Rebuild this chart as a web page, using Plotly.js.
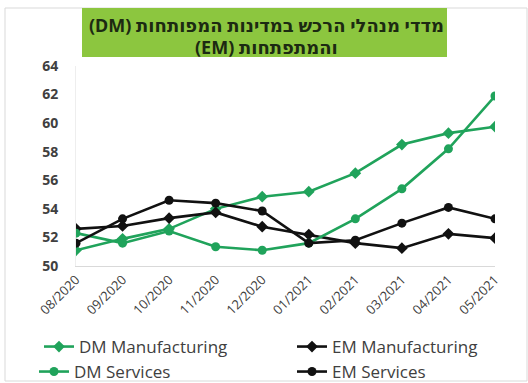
<!DOCTYPE html>
<html>
<head>
<meta charset="utf-8">
<script src="https://cdn.plot.ly/plotly-3.0.1.min.js"></script>
<style>
html,body{margin:0;padding:0;background:#fff;}
#chart{width:528px;height:383px;}
</style>
</head>
<body>
<div id="chart"></div>
<script>
const months = ["08/2020","09/2020","10/2020","11/2020","12/2020","01/2021","02/2021","03/2021","04/2021","05/2021"];
const dmManufacturing = [51.1, 51.9, 52.6, 54.0, 54.85, 55.2, 56.5, 58.5, 59.3, 59.75];
const emManufacturing = [52.6, 52.8, 53.35, 53.75, 52.75, 52.2, 51.6, 51.25, 52.25, 51.95];
const dmServices = [52.3, 51.6, 52.45, 51.35, 51.1, 51.6, 53.3, 55.4, 58.2, 61.9];
const emServices = [51.6, 53.3, 54.6, 54.4, 53.85, 51.6, 51.8, 53.0, 54.1, 53.3];
const yTicks = [50, 52, 54, 56, 58, 60, 62, 64];
const titleLines = ["(DM) מדדי מנהלי הרכש במדינות המפותחות", "(EM) והמתפתחות"];

const green = "#20a35b";
const black = "#111111";

function tr(name, y, color, symbol, legend) {
  return {
    type: "scatter", mode: "lines+markers", name: name, legend: legend,
    x: months.map((m, i) => i), y: y,
    line: {color: color, width: 2.6},
    marker: {color: color, symbol: symbol, size: 9}
  };
}

const data = [
  tr("DM Manufacturing", dmManufacturing, green, "diamond", "legend"),
  tr("EM Manufacturing", emManufacturing, black, "diamond", "legend2"),
  tr("DM Services", dmServices, green, "circle", "legend3"),
  tr("EM Services", emServices, black, "circle", "legend4")
];

const W = 528, H = 383;
const PW = 419, PH = 200, L = 76, T = 66;
const px = x => (x - L) / PW;
const py = y => (T + PH - y) / PH;

function leg(textX, rowY) {
  return {
    xref: "container", yref: "container",
    x: (textX - 41) / W, y: 1 - rowY / H, xanchor: "left", yanchor: "middle",
    font: {size: 17, color: "#404040"},
    itemwidth: 30, bgcolor: "rgba(0,0,0,0)", borderwidth: 0
  };
}

const layout = {
  width: W, height: H,
  margin: {l: L, r: W - L - PW, t: T, b: H - T - PH, autoexpand: false},
  paper_bgcolor: "#ffffff", plot_bgcolor: "#ffffff",
  showlegend: true,
  font: {family: "Open Sans, Liberation Sans, sans-serif", color: "#404040"},
  xaxis: {
    range: [0, 9], tickmode: "array",
    tickvals: months.map((m, i) => i), ticktext: months,
    tickangle: -45, showgrid: false, zeroline: false,
    showline: true, linecolor: "#d9d9d9", linewidth: 1,
    ticks: "", tickfont: {size: 13, color: "#404040"}, automargin: false
  },
  yaxis: {
    range: [50, 64], tickmode: "array", tickvals: yTicks,
    ticktext: yTicks.map(String),
    showgrid: false, zeroline: false, showline: true,
    linecolor: "#eeeeee", linewidth: 1, ticks: "",
    ticklabelstandoff: 14, automargin: false,
    tickfont: {size: 14, color: "#404040", weight: "bold"}
  },
  legend: leg(80, 347),
  legend2: leg(333, 347),
  legend3: leg(75, 372),
  legend4: leg(333, 372),
  shapes: [
    {type: "rect", xref: "paper", yref: "paper",
     x0: px(5), x1: px(527), y0: py(381), y1: py(8),
     line: {color: "#d9d9d9", width: 1}, fillcolor: "rgba(0,0,0,0)", layer: "below"},
    {type: "rect", xref: "paper", yref: "paper",
     x0: px(82), x1: px(447), y0: py(57), y1: py(8),
     line: {width: 0}, fillcolor: "#8cc63f", layer: "above"}
  ],
  annotations: [
    {xref: "paper", yref: "paper", x: px(266), y: py(25), text: titleLines[0],
     showarrow: false, xanchor: "center", yanchor: "middle",
     font: {size: 18, color: "#1c2a12", weight: "bold", family: "Noto Sans, DejaVu Sans, sans-serif"}},
    {xref: "paper", yref: "paper", x: px(266), y: py(47), text: titleLines[1],
     showarrow: false, xanchor: "center", yanchor: "middle",
     font: {size: 18, color: "#1c2a12", weight: "bold", family: "Noto Sans, DejaVu Sans, sans-serif"}}
  ]
};

Plotly.newPlot("chart", data, layout, {displayModeBar: false, staticPlot: true});
</script>
</body>
</html>
